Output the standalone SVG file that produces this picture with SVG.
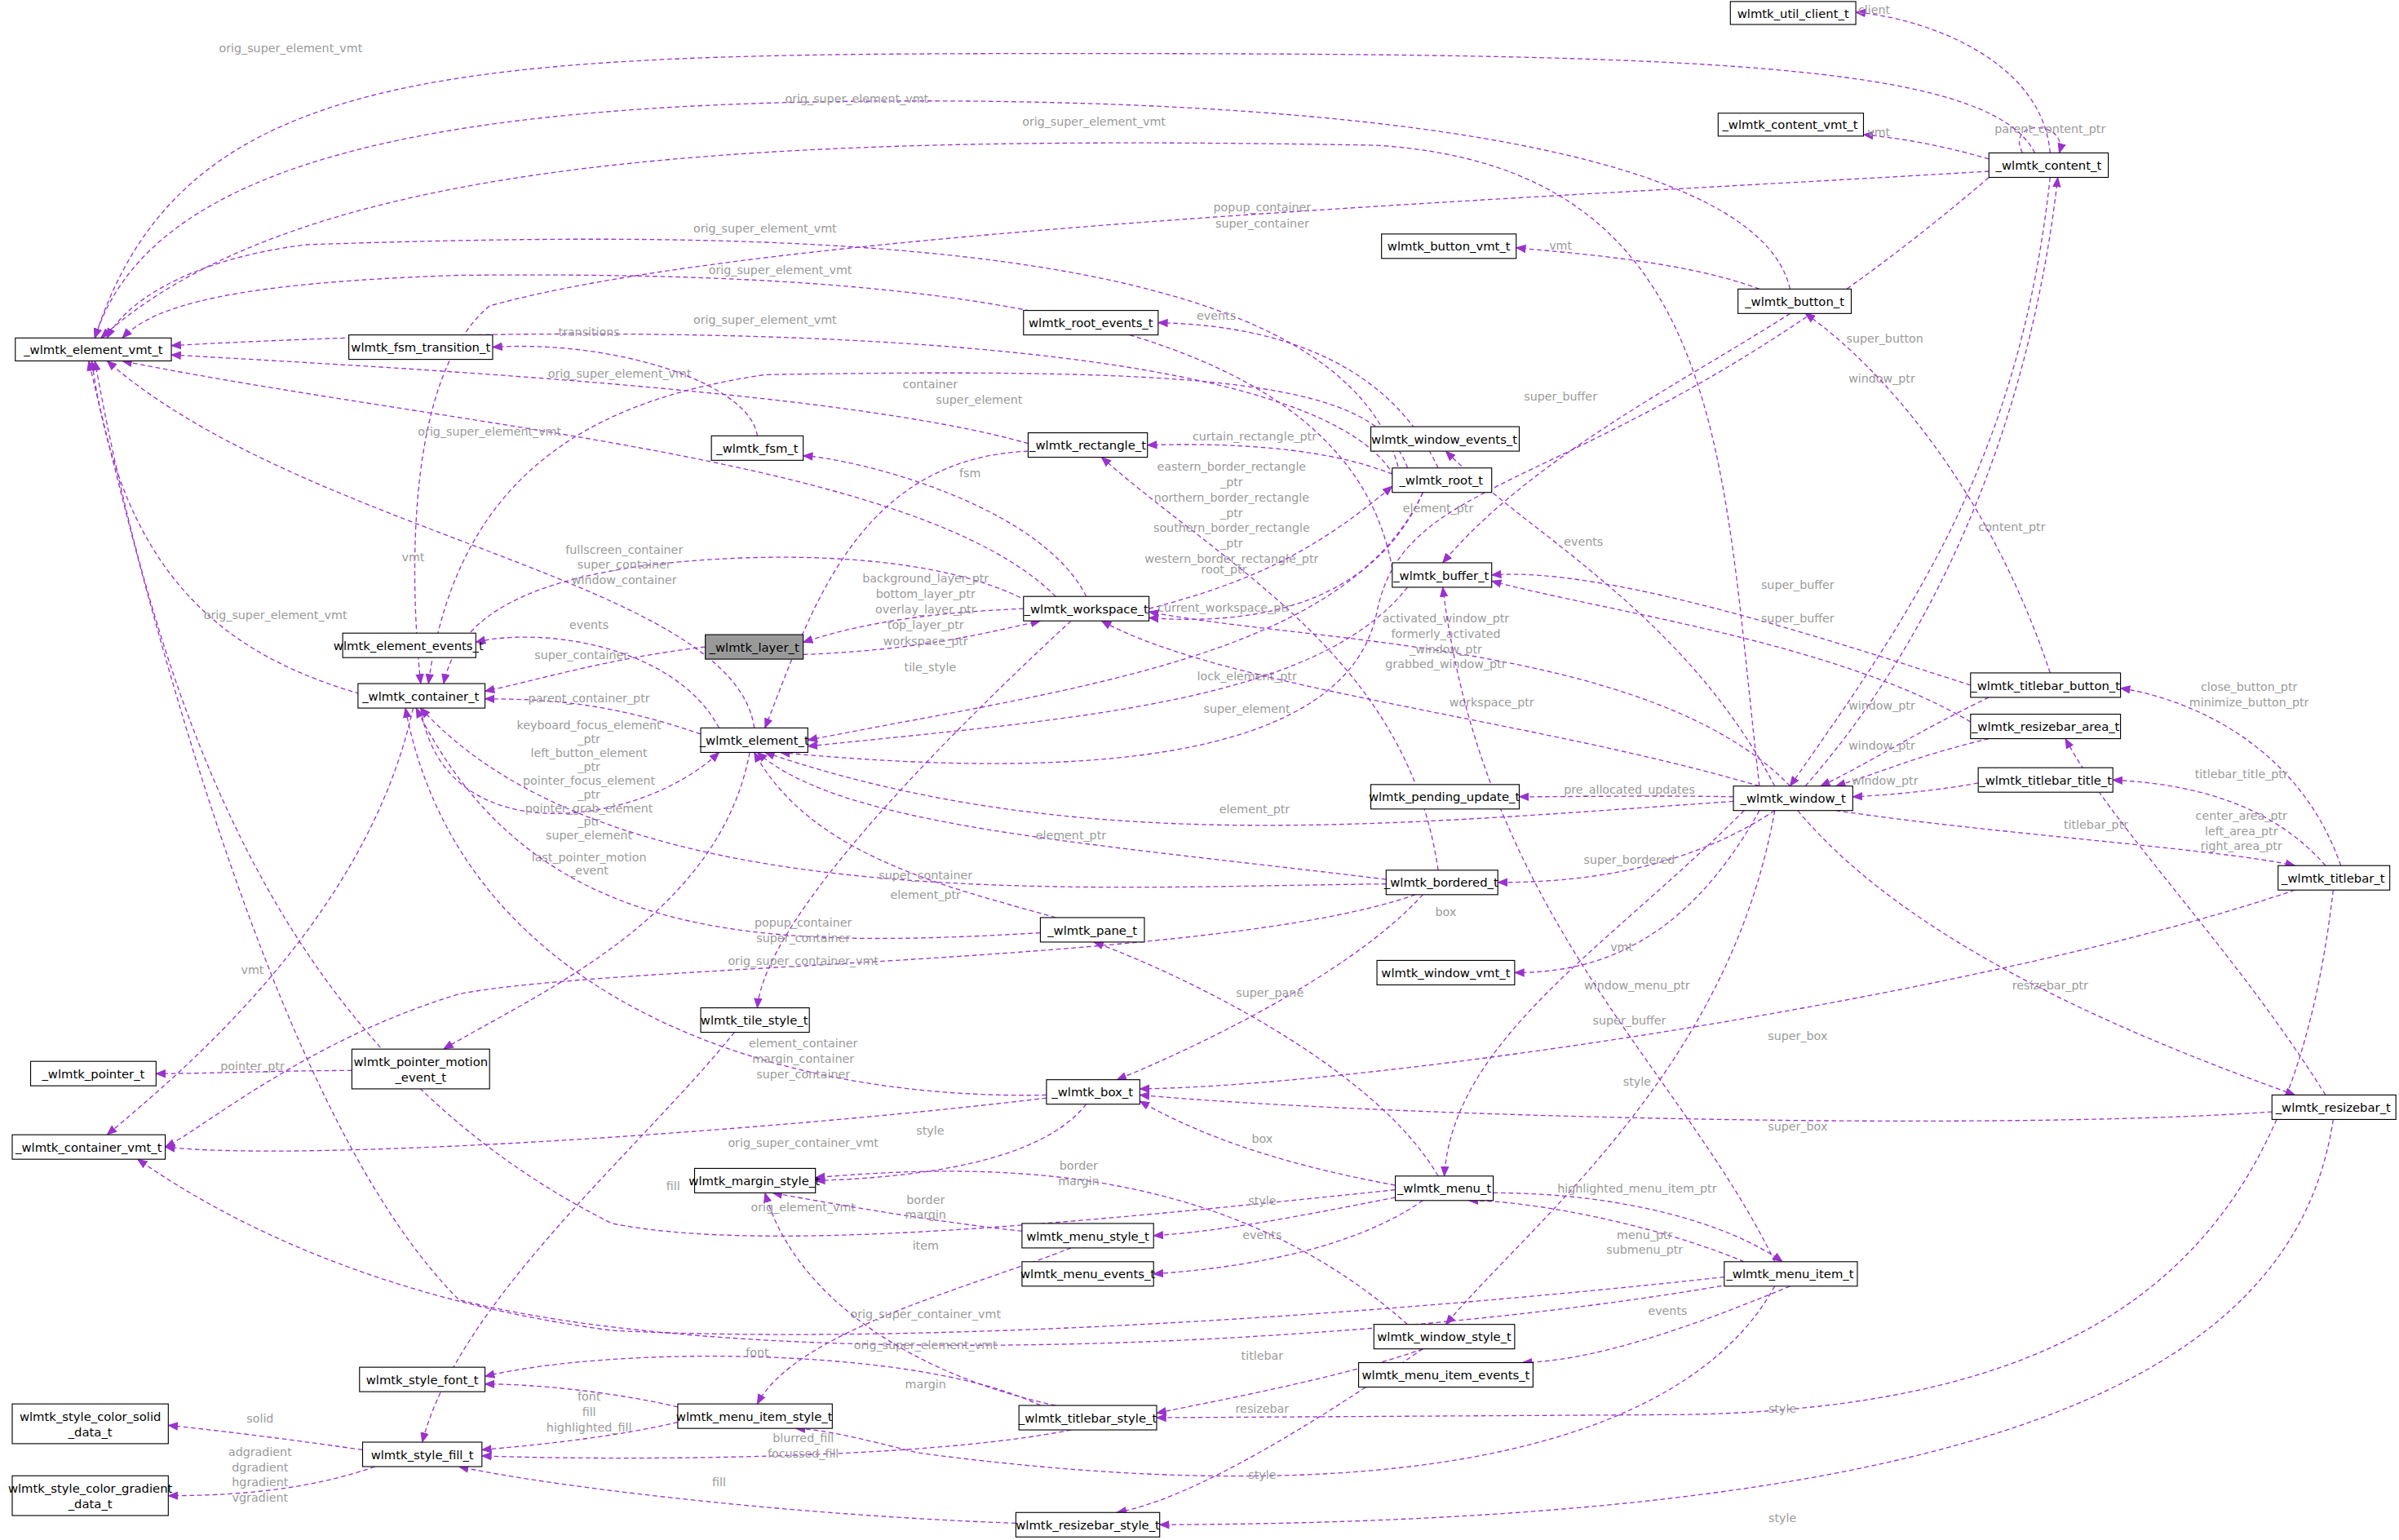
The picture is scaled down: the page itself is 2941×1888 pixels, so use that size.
<svg xmlns="http://www.w3.org/2000/svg" width="2941" height="1888" viewBox="0 0 2941 1888">
<style>
.n rect{fill:#fff;stroke:#000;stroke-width:0.6}
.n text{font-family:"DejaVu Sans",sans-serif;font-size:7.9px;text-anchor:middle;fill:#000}
.e path{fill:none;stroke:#9a32cd;stroke-width:0.7;stroke-dasharray:3,2;marker-end:url(#a)}
.e text{font-family:"DejaVu Sans",sans-serif;font-size:7.6px;text-anchor:middle;fill:#9a9a9a}
</style>
<defs><marker id="a" viewBox="0 0 10 10" refX="9" refY="5" markerWidth="7" markerHeight="7" markerUnits="userSpaceOnUse" orient="auto"><path d="M0,1L10,5L0,9z" fill="#9a32cd" stroke="none"/></marker></defs>
<rect width="2941" height="1888" fill="#fff"/>
<g transform="scale(1.8756,1.8749)">
<g class="e" id="edges">
<path d="M1340 100 C1335 40 1260 12 1213 8"/><text x="1225" y="9">client</text>
<path d="M1300 104 C1270 95 1240 90 1218 88"/><text x="1228" y="89">vmt</text>
<path d="M1322 100 C1310 78 1352 78 1346 100"/><text x="1340" y="87">parent_content_ptr</text>
<path d="M1330 100 C1300 40 1100 35 700 35 C300 35 120 40 62 221"/><text x="190" y="34">orig_super_element_vmt</text>
<path d="M1170 189 C1150 100 900 66 600 66 C300 66 100 100 62 221"/><text x="560" y="67">orig_super_element_vmt</text>
<path d="M1150 189 C1100 170 1020 165 991 162"/><text x="1020" y="163">vmt</text>
<path d="M1150 514 C1125 300 1130 110 900 95 C500 88 200 100 66 221"/><text x="715" y="82">orig_super_element_vmt</text>
<path d="M1300 112 C1000 130 500 150 320 200 C260 250 270 400 275 447"/><text x="825" y="138">popup_container</text><text x="825" y="149">super_container</text>
<path d="M915 310 C880 150 500 150 200 160 C120 170 80 200 70 221"/><text x="500" y="152">orig_super_element_vmt</text>
<path d="M910 372 C880 200 600 177 300 180 C150 185 100 200 80 221"/><text x="510" y="179">orig_super_element_vmt</text>
<path d="M915 320 C880 210 400 210 112 226"/><text x="500" y="212">orig_super_element_vmt</text>
<path d="M672 290 C550 255 250 240 112 232"/><text x="405" y="247">orig_super_element_vmt</text>
<path d="M495 285 C490 250 400 222 322 227"/><text x="385" y="220">transitions</text>
<path d="M710 390 C680 330 560 300 525 298"/><text x="634" y="312">fsm</text>
<path d="M690 390 C600 300 300 280 80 236"/><text x="320" y="285">orig_super_element_vmt</text>
<path d="M493 476 C480 380 200 350 70 236"/><text x="270" y="367">vmt</text>
<path d="M240 455 C150 430 80 380 60 236"/><text x="180" y="405">orig_super_element_vmt</text>
<path d="M940 306 C900 220 800 212 757 211"/><text x="795" y="209">events</text>
<path d="M910 310 C860 290 790 290 750 291"/><text x="820" y="288">curtain_rectangle_ptr</text>
<path d="M920 306 C900 250 800 240 500 245 C400 260 300 300 280 447"/><text x="608" y="254">container</text>
<path d="M672 295 C560 300 530 400 500 476"/><text x="640" y="264">super_element</text>
<path d="M680 398 C620 360 500 360 420 370 C350 380 300 400 290 447"/><text x="408" y="362">fullscreen_container</text><text x="408" y="372">super_container</text><text x="408" y="382">window_container</text>
<path d="M940 569 C920 430 800 370 720 299"/><text x="805" y="308">eastern_border_rectangle</text><text x="805" y="318">_ptr</text><text x="805" y="328">northern_border_rectangle</text><text x="805" y="338">_ptr</text><text x="805" y="348">southern_border_rectangle</text><text x="805" y="358">_ptr</text><text x="805" y="368">western_border_rectangle_ptr</text>
<path d="M751 398 C820 380 860 360 910 318"/><text x="800" y="375">root_ptr</text>
<path d="M930 322 C900 390 830 410 751 404"/><text x="800" y="400">current_workspace_ptr</text>
<path d="M669 398 C620 400 570 405 525 420"/><text x="605" y="381">background_layer_ptr</text><text x="605" y="391">bottom_layer_ptr</text><text x="605" y="401">overlay_layer_ptr</text><text x="605" y="411">top_layer_ptr</text>
<path d="M525 428 C600 425 640 415 680 406"/><text x="605" y="422">workspace_ptr</text>
<path d="M461 423 C400 430 350 445 317 452"/><text x="380" y="431">super_container</text>
<path d="M700 406 C620 480 500 600 495 659"/><text x="608" y="439">tile_style</text>
<path d="M470 476 C440 420 350 410 311 420"/><text x="385" y="411">events</text>
<path d="M458 480 C400 460 360 457 317 457"/><text x="385" y="459">parent_container_ptr</text>
<path d="M275 463 C290 560 420 540 470 492"/><text x="385" y="477">keyboard_focus_element</text><text x="385" y="486">_ptr</text><text x="385" y="495">left_button_element</text><text x="385" y="504">_ptr</text><text x="385" y="513">pointer_focus_element</text><text x="385" y="522">_ptr</text><text x="385" y="531">pointer_grab_element</text><text x="385" y="540">_ptr</text><text x="385" y="549">super_element</text>
<path d="M490 492 C470 600 350 650 290 686"/><text x="385" y="563">last_pointer_motion</text><text x="385" y="572">_event</text>
<path d="M930 322 C880 430 700 450 528 484"/><text x="815" y="445">lock_element_ptr</text>
<path d="M920 384 C860 460 700 470 528 488"/><text x="815" y="466">super_element</text>
<path d="M1300 116 C1050 330 920 300 900 400 C880 500 700 510 510 492"/><text x="940" y="335">element_ptr</text>
<path d="M1133 524 C900 540 700 560 500 492"/><text x="820" y="532">element_ptr</text>
<path d="M906 575 C700 550 550 540 495 492"/><text x="700" y="549">element_ptr</text>
<path d="M906 578 C700 580 400 600 275 463"/><text x="605" y="575">super_container</text>
<path d="M690 600 C620 580 530 560 493 492"/><text x="605" y="588">element_ptr</text>
<path d="M680 610 C500 620 350 620 272 463"/><text x="525" y="606">popup_container</text><text x="525" y="616">super_container</text>
<path d="M684 716 C500 720 300 650 265 463"/><text x="525" y="685">element_container</text><text x="525" y="695">margin_container</text><text x="525" y="705">super_container</text>
<path d="M925 585 C800 630 400 630 300 650 C200 680 130 740 108 750"/><text x="525" y="631">orig_super_container_vmt</text>
<path d="M1340 116 C1320 300 1250 400 1170 514"/><path d="M1180 514 C1280 400 1330 250 1345 116"/><text x="1315" y="347">content_ptr</text><text x="1230" y="250">window_ptr</text>
<path d="M1170 205 C1100 250 1000 300 943 368"/><text x="1020" y="262">super_buffer</text>
<path d="M1160 514 C1100 400 1000 350 945 295"/><text x="1035" y="357">events</text>
<path d="M1288 448 C1200 420 1050 370 975 376"/><text x="1175" y="385">super_buffer</text>
<path d="M1288 472 C1200 420 1050 400 975 380"/><text x="1175" y="407">super_buffer</text>
<path d="M1340 440 C1300 320 1230 240 1180 205"/><text x="1232" y="224">super_button</text>
<path d="M1170 514 C1080 420 850 420 751 400"/><text x="945" y="407">activated_window_ptr</text><text x="945" y="417">formerly_activated</text><text x="945" y="427">_window_ptr</text><text x="945" y="437">grabbed_window_ptr</text>
<path d="M1150 514 C1000 470 800 450 720 406"/><text x="975" y="462">workspace_ptr</text>
<path d="M1300 456 C1250 480 1220 500 1190 514"/><text x="1230" y="464">window_ptr</text>
<path d="M1300 483 C1250 495 1230 505 1200 514"/><text x="1230" y="490">window_ptr</text>
<path d="M1293 512 C1260 518 1230 520 1211 521"/><text x="1232" y="513">window_ptr</text>
<path d="M1133 521 C1080 520 1030 521 993 521"/><text x="1065" y="519">pre_allocated_updates</text>
<path d="M1530 566 C1500 480 1420 455 1386 450"/><text x="1470" y="452">close_button_ptr</text><text x="1470" y="462">minimize_button_ptr</text>
<path d="M1520 566 C1480 520 1420 512 1381 510"/><text x="1465" y="509">titlebar_title_ptr</text>
<path d="M1200 530 C1300 545 1450 555 1500 566"/><text x="1370" y="542">titlebar_ptr</text>
<path d="M1520 716 C1460 620 1380 540 1350 483"/><text x="1465" y="536">center_area_ptr</text><text x="1465" y="546">left_area_ptr</text><text x="1465" y="556">right_area_ptr</text>
<path d="M1175 530 C1250 620 1400 680 1500 716"/><text x="1340" y="647">resizebar_ptr</text>
<path d="M1160 530 C1100 570 1030 577 979 577"/><text x="1065" y="565">super_bordered</text>
<path d="M1150 530 C1100 620 1040 636 990 636"/><text x="1060" y="622">vmt</text>
<path d="M1140 530 C1050 620 950 680 944 769"/><text x="1070" y="647">window_menu_ptr</text>
<path d="M930 585 C880 640 770 690 730 706"/><text x="945" y="599">box</text>
<path d="M940 769 C900 700 780 640 715 616"/><text x="830" y="652">super_pane</text>
<path d="M1160 825 C1100 700 970 600 943 384"/><text x="1065" y="670">super_buffer</text>
<path d="M1500 582 C1300 650 900 710 745 712"/><text x="1175" y="680">super_box</text>
<path d="M1485 727 C1300 740 900 730 745 716"/><text x="1175" y="739">super_box</text>
<path d="M1160 530 C1130 700 1000 800 945 866"/><text x="1070" y="710">style</text>
<path d="M480 675 C420 750 300 850 276 943"/><text x="440" y="778">fill</text>
<path d="M710 722 C680 760 600 770 533 772"/><text x="608" y="742">style</text>
<path d="M684 718 C500 740 200 760 108 750"/><text x="525" y="750">orig_super_container_vmt</text>
<path d="M912 775 C830 760 780 740 745 720"/><text x="825" y="747">box</text>
<path d="M912 778 C700 800 500 820 400 800 C200 700 110 500 62 236"/><text x="525" y="792">orig_element_vmt</text>
<path d="M912 783 C850 795 800 805 754 808"/><text x="825" y="788">style</text>
<path d="M930 785 C880 820 800 830 754 833"/><text x="825" y="810">events</text>
<path d="M668 805 C620 800 560 790 505 780"/><text x="605" y="787">border</text><text x="605" y="797">margin</text>
<path d="M920 866 C800 760 650 760 533 770"/><text x="705" y="765">border</text><text x="705" y="775">margin</text>
<path d="M700 816 C640 840 520 870 495 918"/><text x="605" y="817">item</text>
<path d="M976 780 C1060 780 1130 800 1165 825"/><text x="1070" y="780">highlighted_menu_item_ptr</text>
<path d="M1140 825 C1080 800 1000 785 960 785"/><text x="1075" y="810">menu_ptr</text><text x="1075" y="820">submenu_ptr</text>
<path d="M1170 841 C1100 870 1040 890 995 891"/><text x="1090" y="860">events</text>
<path d="M1127 835 C900 860 600 880 400 870 C250 850 150 800 90 758"/><text x="605" y="862">orig_super_container_vmt</text>
<path d="M1130 840 C900 880 500 900 300 850 C200 750 120 500 58 236"/><text x="605" y="882">orig_super_element_vmt</text>
<path d="M930 882 C880 900 800 915 756 924"/><text x="825" y="889">titlebar</text>
<path d="M930 882 C860 930 780 980 730 989"/><text x="825" y="924">resizebar</text>
<path d="M680 919 C600 880 400 880 317 900"/><text x="495" y="887">font</text>
<path d="M690 919 C600 900 520 850 500 780"/><text x="605" y="908">margin</text>
<path d="M700 935 C600 955 400 955 315 952"/><text x="525" y="943">blurred_fill</text><text x="525" y="953">focussed_fill</text>
<path d="M443 920 C400 910 350 905 317 905"/><text x="385" y="916">font</text>
<path d="M443 930 C400 940 350 945 315 948"/><text x="385" y="926">fill</text><text x="385" y="936">highlighted_fill</text>
<path d="M237 948 C180 940 140 935 110 932"/><text x="170" y="930">solid</text>
<path d="M245 959 C200 975 150 978 110 978"/><text x="170" y="952">adgradient</text><text x="170" y="962">dgradient</text><text x="170" y="972">hgradient</text><text x="170" y="982">vgradient</text>
<path d="M664 996 C500 990 350 970 300 959"/><text x="470" y="972">fill</text>
<path d="M1160 841 C1100 950 900 990 600 950 C560 940 540 935 520 934"/><text x="825" y="967">style</text>
<path d="M1525 582 C1500 800 1400 920 1100 925 L756 927"/><text x="1165" y="924">style</text>
<path d="M1525 732 C1500 900 1300 995 758 997"/><text x="1165" y="995">style</text>
<path d="M270 463 C240 600 120 700 70 742"/><text x="165" y="637">vmt</text>
<path d="M230 700 C180 700 140 702 102 702"/><text x="165" y="700">pointer_ptr</text>
</g>
<g class="n" id="util_client"><rect x="1131" y="1" width="82" height="15"/><text x="1172" y="11.5">wlmtk_util_client_t</text></g>
<g class="n" id="content_vmt"><rect x="1123" y="74" width="95" height="15"/><text x="1170" y="84.5">_wlmtk_content_vmt_t</text></g>
<g class="n" id="content"><rect x="1300" y="100" width="78" height="16"/><text x="1339" y="111">_wlmtk_content_t</text></g>
<g class="n" id="button_vmt"><rect x="903" y="153" width="88" height="16"/><text x="947" y="164">wlmtk_button_vmt_t</text></g>
<g class="n" id="button"><rect x="1136" y="189" width="74" height="16"/><text x="1173" y="200">_wlmtk_button_t</text></g>
<g class="n" id="element_vmt"><rect x="10" y="221" width="102" height="15"/><text x="61" y="231.5">_wlmtk_element_vmt_t</text></g>
<g class="n" id="fsm_transition"><rect x="228" y="219" width="94" height="16"/><text x="275" y="230">wlmtk_fsm_transition_t</text></g>
<g class="n" id="root_events"><rect x="669" y="203" width="88" height="16"/><text x="713" y="214">wlmtk_root_events_t</text></g>
<g class="n" id="fsm"><rect x="465" y="285" width="60" height="16"/><text x="495" y="296">_wlmtk_fsm_t</text></g>
<g class="n" id="rectangle"><rect x="672" y="283" width="78" height="16"/><text x="711" y="294">_wlmtk_rectangle_t</text></g>
<g class="n" id="window_events"><rect x="896" y="279" width="97" height="16"/><text x="944" y="290">wlmtk_window_events_t</text></g>
<g class="n" id="root"><rect x="910" y="306" width="65" height="16"/><text x="942" y="317">_wlmtk_root_t</text></g>
<g class="n" id="buffer"><rect x="910" y="368" width="65" height="16"/><text x="942" y="379">_wlmtk_buffer_t</text></g>
<g class="n" id="workspace"><rect x="669" y="390" width="82" height="16"/><text x="710" y="401">_wlmtk_workspace_t</text></g>
<g class="n" id="element_events"><rect x="224" y="414" width="87" height="16"/><text x="267" y="425">wlmtk_element_events_t</text></g>
<g class="n" id="layer"><rect x="461" y="415" width="64" height="16" style="fill:#999"/><text x="493" y="426">_wlmtk_layer_t</text></g>
<g class="n" id="container"><rect x="234" y="447" width="83" height="16"/><text x="275" y="458">_wlmtk_container_t</text></g>
<g class="n" id="element"><rect x="458" y="476" width="70" height="16"/><text x="493" y="487">_wlmtk_element_t</text></g>
<g class="n" id="titlebar_button"><rect x="1288" y="440" width="98" height="16"/><text x="1337" y="451">_wlmtk_titlebar_button_t</text></g>
<g class="n" id="resizebar_area"><rect x="1288" y="467" width="98" height="16"/><text x="1337" y="478">_wlmtk_resizebar_area_t</text></g>
<g class="n" id="window"><rect x="1133" y="514" width="78" height="16"/><text x="1172" y="525">_wlmtk_window_t</text></g>
<g class="n" id="pending_update"><rect x="896" y="513" width="97" height="16"/><text x="944" y="524">wlmtk_pending_update_t</text></g>
<g class="n" id="titlebar_title"><rect x="1293" y="502" width="88" height="16"/><text x="1337" y="513">_wlmtk_titlebar_title_t</text></g>
<g class="n" id="titlebar"><rect x="1489" y="566" width="73" height="16"/><text x="1525" y="577">_wlmtk_titlebar_t</text></g>
<g class="n" id="bordered"><rect x="906" y="569" width="73" height="16"/><text x="942" y="580">_wlmtk_bordered_t</text></g>
<g class="n" id="pane"><rect x="680" y="600" width="68" height="16"/><text x="714" y="611">_wlmtk_pane_t</text></g>
<g class="n" id="window_vmt"><rect x="900" y="628" width="90" height="16"/><text x="945" y="639">wlmtk_window_vmt_t</text></g>
<g class="n" id="tile_style"><rect x="458" y="659" width="71" height="16"/><text x="493" y="670">wlmtk_tile_style_t</text></g>
<g class="n" id="pointer"><rect x="20" y="694" width="82" height="16"/><text x="61" y="705">_wlmtk_pointer_t</text></g>
<g class="n" id="pointer_motion"><rect x="230" y="686" width="90" height="26"/><text x="275" y="697">wlmtk_pointer_motion</text><text x="275" y="707">_event_t</text></g>
<g class="n" id="box"><rect x="684" y="706" width="61" height="16"/><text x="714" y="717">_wlmtk_box_t</text></g>
<g class="n" id="resizebar"><rect x="1485" y="716" width="81" height="16"/><text x="1525" y="727">_wlmtk_resizebar_t</text></g>
<g class="n" id="container_vmt"><rect x="8" y="742" width="100" height="16"/><text x="58" y="753">_wlmtk_container_vmt_t</text></g>
<g class="n" id="margin_style"><rect x="454" y="764" width="79" height="16"/><text x="493" y="775">wlmtk_margin_style_t</text></g>
<g class="n" id="menu"><rect x="912" y="769" width="64" height="16"/><text x="944" y="780">_wlmtk_menu_t</text></g>
<g class="n" id="menu_style"><rect x="668" y="800" width="86" height="16"/><text x="711" y="811">wlmtk_menu_style_t</text></g>
<g class="n" id="menu_events"><rect x="668" y="825" width="86" height="16"/><text x="711" y="836">wlmtk_menu_events_t</text></g>
<g class="n" id="menu_item"><rect x="1127" y="825" width="87" height="16"/><text x="1170" y="836">_wlmtk_menu_item_t</text></g>
<g class="n" id="window_style"><rect x="898" y="866" width="92" height="16"/><text x="944" y="877">wlmtk_window_style_t</text></g>
<g class="n" id="style_font"><rect x="235" y="894" width="82" height="16"/><text x="276" y="905">wlmtk_style_font_t</text></g>
<g class="n" id="menu_item_events"><rect x="888" y="891" width="114" height="16"/><text x="945" y="902">wlmtk_menu_item_events_t</text></g>
<g class="n" id="color_solid"><rect x="8" y="918" width="102" height="26"/><text x="59" y="929">wlmtk_style_color_solid</text><text x="59" y="939">_data_t</text></g>
<g class="n" id="menu_item_style"><rect x="443" y="918" width="101" height="16"/><text x="493" y="929">wlmtk_menu_item_style_t</text></g>
<g class="n" id="titlebar_style"><rect x="666" y="919" width="90" height="16"/><text x="711" y="930">_wlmtk_titlebar_style_t</text></g>
<g class="n" id="style_fill"><rect x="237" y="943" width="78" height="16"/><text x="276" y="954">wlmtk_style_fill_t</text></g>
<g class="n" id="color_gradient"><rect x="8" y="965" width="102" height="26"/><text x="59" y="976">wlmtk_style_color_gradient</text><text x="59" y="986">_data_t</text></g>
<g class="n" id="resizebar_style"><rect x="664" y="989" width="94" height="16"/><text x="711" y="1000">wlmtk_resizebar_style_t</text></g>
</g>
</svg>
